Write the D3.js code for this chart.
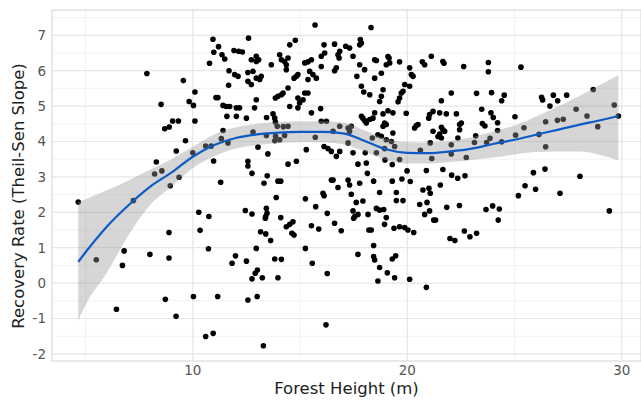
<!DOCTYPE html>
<html>
<head>
<meta charset="utf-8">
<script src="https://cdn.jsdelivr.net/npm/d3@7"></script>
<style>
  body { margin: 0; background: #fff; }
  svg { display: block; font-family: "DejaVu Sans", sans-serif; }
</style>
</head>
<body>
<div id="chart"></div>
<script>
// [forest height (m), recovery rate]
const observations = [
  [4.66,2.29],[5.5,0.66],[6.44,-0.74],[6.8,0.91],[6.72,0.5],[7.23,2.33],[7.86,5.92],[8.0,0.81],
  [8.22,3.08],[8.3,3.42],[8.52,5.05],[8.56,3.17],[8.69,4.36],[8.9,4.41],[8.72,-0.46],[8.89,1.43],
  [8.89,0.71],[8.95,2.75],[9.06,4.58],[9.33,4.58],[9.23,3.73],[9.22,-0.94],[9.36,2.99],[9.56,5.72],
  [9.66,4.02],[9.83,5.13],[10.0,3.68],[10.03,5.02],[10.1,5.4],[10.1,4.58],[10.03,-0.38],[10.28,2.0],
  [10.34,1.49],[10.6,3.87],[10.6,-1.51],[10.75,1.88],[10.73,0.97],[10.78,6.21],[10.86,3.87],[10.94,6.89],
  [10.98,6.52],[10.97,3.45],[10.95,-1.42],[11.08,5.24],[11.17,5.24],[11.2,6.68],[11.16,-0.38],[11.3,2.85],
  [11.36,6.45],[11.49,6.33],[11.92,6.57],[12.14,6.55],[12.31,6.53],[12.6,6.92],[11.69,6.0],[11.95,5.89],
  [12.11,5.84],[12.73,6.31],[12.96,6.41],[13.07,6.31],[12.96,6.26],[12.57,5.95],[12.81,5.98],[12.57,5.7],
  [12.73,5.61],[12.96,5.79],[13.12,5.75],[13.19,5.84],[11.67,5.59],[11.41,5.02],[11.56,4.99],[11.72,4.99],
  [12.03,4.95],[12.18,4.95],[11.59,4.71],[12.03,4.71],[12.5,4.66],[12.96,5.18],[12.88,4.95],[13.44,4.68],
  [13.66,6.17],[14.05,6.45],[14.13,6.31],[14.28,6.26],[14.36,6.17],[14.44,6.36],[14.36,6.03],[14.52,6.73],
  [14.78,6.86],[14.72,5.79],[14.83,5.84],[14.9,5.89],[14.44,5.51],[13.85,5.23],[13.97,5.28],[14.13,5.32],
  [14.21,5.37],[14.52,4.99],[14.9,4.95],[14.98,5.09],[14.9,5.23],[15.14,5.18],[15.22,5.37],[15.37,5.37],
  [15.22,6.22],[15.37,6.25],[15.53,6.31],[15.45,5.98],[15.6,5.89],[15.76,5.79],[15.37,5.75],[15.99,6.41],
  [16.15,6.5],[15.99,6.12],[16.12,6.73],[15.96,4.93],[15.53,4.81],[15.99,4.57],[16.23,4.57],[13.74,4.78],
  [13.82,4.66],[13.85,4.55],[13.94,4.43],[14.44,4.43],[13.86,4.15],[14.05,4.05],[14.28,4.17],[13.82,4.02],
  [13.43,4.17],[12.81,4.27],[11.41,4.31],[11.33,4.08],[11.64,3.96],[13.04,3.84],[13.5,3.65],[12.57,3.44],
  [14.44,3.36],[14.83,3.44],[15.29,3.77],[15.71,4.12],[16.12,3.86],[16.3,3.8],[16.46,3.72],[14.22,4.42],
  [15.7,7.29],[18.31,7.22],
  [16.61,6.75],[16.85,6.55],[16.77,6.45],[16.82,6.36],[17.13,6.69],[17.31,6.64],[17.81,6.88],[17.86,6.78],
  [17.78,6.73],[17.47,6.41],[16.69,6.08],[16.61,6.0],[17.78,6.17],[18.01,6.03],[17.65,5.84],[17.86,5.56],
  [17.97,5.4],[18.48,6.31],[18.56,6.29],[19.1,6.4],[19.15,6.36],[19.02,6.17],[19.18,6.22],[18.79,5.93],
  [18.48,5.79],[19.64,6.25],[20.11,6.08],[20.19,5.89],[20.27,5.84],[20.11,5.56],[19.88,5.61],[19.72,5.37],
  [19.8,5.42],[19.64,5.23],[19.57,5.12],[18.87,5.46],[18.79,5.28],[18.71,5.13],[18.25,5.32],[20.7,6.25],
  [20.81,6.17],[21.12,6.41],[21.66,6.26],[21.71,6.21],[22.63,6.12],[22.05,5.37],[21.59,5.15],[21.2,4.85],
  [21.04,4.76],[21.0,4.66],[21.51,4.81],[21.82,4.78],[22.29,4.78],[22.52,4.52],[22.44,4.48],[22.44,4.33],
  [22.36,4.1],[21.59,4.4],[21.66,4.33],[21.74,4.29],[21.51,4.21],[21.43,4.14],[21.59,4.1],[21.2,4.29],
  [21.07,3.96],[22.05,3.91],[22.05,3.65],[22.75,3.55],[20.61,3.75],[19.95,4.8],[20.5,4.48],[20.42,4.45],
  [20.34,4.38],[19.33,4.81],[19.1,4.87],[18.87,4.78],[18.94,4.52],[18.87,4.43],[19.02,4.48],[18.48,4.81],
  [18.4,4.66],[18.25,4.62],[17.86,4.71],[17.93,4.66],[18.01,4.59],[18.09,4.52],[18.63,4.19],[18.79,4.15],
  [18.37,4.1],[19.02,4.05],[19.26,4.0],[19.33,4.24],[19.41,3.86],[18.94,3.8],[19.64,3.49],[18.56,3.68],
  [17.39,4.43],[17.24,4.38],[17.31,4.29],[16.85,4.43],[16.54,4.29],[17.24,3.96],[16.85,3.72],[16.69,3.58],
  [17.47,3.68],[18.04,3.68],[17.7,3.36],[18.09,3.39],[18.96,3.48],[19.3,3.35],[21.14,3.52],
  [23.78,6.23],[23.78,5.97],[25.3,6.1],[23.23,5.36],[23.93,5.38],[24.52,5.31],[24.4,5.15],[23.47,4.91],
  [23.9,4.81],[24.01,4.68],[24.21,4.53],[23.5,4.51],[23.62,4.44],[24.21,4.31],[23.19,4.16],[23.13,3.97],
  [23.7,3.97],[23.86,4.09],[24.4,3.99],[25.02,4.7],[25.05,4.18],[25.44,4.39],[26.14,4.2],[26.45,3.85],
  [26.45,4.56],[26.26,5.25],[26.31,5.17],[26.65,5.0],[26.81,5.31],[27.01,5.15],[27.43,5.31],[27.0,4.6],
  [27.27,4.63],[27.87,4.91],[28.38,4.72],[28.88,4.42],[28.67,5.47],[29.65,5.03],[29.84,4.72],[25.88,3.12],
  [26.42,3.22],[28.05,3.02],[22.07,3.05],[22.35,2.96],[22.69,3.03],
  [25.18,2.47],[25.49,2.75],[25.98,2.65],[27.12,2.54],[21.84,2.14],[22.43,2.19],[23.67,2.08],[23.98,2.18],
  [24.29,2.09],[24.24,1.78],[22.66,1.47],[22.92,1.31],[23.23,1.41],[21.99,1.26],[22.22,1.2],[29.42,2.04],
  [18.14,3.1],[19.99,3.17],[20.89,3.18],[21.66,3.21],[16.54,2.91],[17.24,2.91],[17.31,2.77],[16.77,2.7],
  [17.78,2.82],[18.43,2.88],[19.3,2.88],[19.75,2.94],[20.14,2.87],[18.71,2.56],[19.49,2.56],[20.73,2.63],
  [21.01,2.68],[21.07,2.54],[21.54,2.77],[17.39,2.51],[17.62,2.28],[17.93,2.32],[19.49,2.33],[19.8,2.33],
  [20.58,2.22],[20.92,2.28],[18.56,2.11],[18.71,2.06],[18.9,2.08],[17.47,2.04],[17.7,1.94],[17.55,1.88],
  [17.5,1.83],[18.17,1.94],[19.02,1.85],[18.94,1.66],[16.61,1.69],[16.92,1.48],[18.21,1.5],[18.32,1.5],
  [19.38,1.55],[19.64,1.59],[19.88,1.57],[20.03,1.5],[20.3,1.43],[20.81,1.94],[21.04,2.04],[21.23,1.78],
  [21.32,1.78],[18.43,1.06],[17.7,0.81],[18.43,0.75],[18.48,0.65],[19.3,0.68],[19.46,0.77],[18.71,0.44],
  [19.07,0.29],[19.41,0.15],[18.63,0.06],[20.11,0.11],[20.89,-0.12],
  [12.57,3.31],[12.76,3.1],[13.47,3.03],[13.32,2.82],[13.97,2.88],[14.1,2.88],[13.89,2.42],[12.45,2.05],
  [12.76,1.95],[13.43,2.11],[13.46,1.97],[13.4,1.88],[13.38,1.83],[14.1,1.85],[14.36,1.59],[14.52,1.66],
  [14.67,1.73],[14.62,1.41],[14.72,1.36],[13.16,1.45],[13.4,1.39],[13.63,1.2],[12.96,0.98],[11.99,0.77],
  [11.83,0.56],[12.5,0.62],[13.82,0.68],[14.13,0.67],[13.01,0.37],[12.91,0.28],[12.76,0.12],[13.24,0.15],
  [13.97,0.15],[15.25,2.38],[15.73,2.16],[16.07,2.54],[16.12,2.47],[16.46,2.91],[16.27,1.97],[15.53,1.62],
  [15.87,1.53],[15.25,0.98],[15.57,0.56],[16.27,0.27],[12.57,-0.48],[13.0,-0.38],[16.21,-1.18],[13.29,-1.77]
];

// loess smooth and its confidence band
const smoothX     = [4.66, 5, 6, 7, 8, 9, 10, 11, 12, 13, 14, 15, 16, 17, 18, 19, 20, 21, 22, 23, 24, 25, 26, 27, 28, 29, 29.84];
const smoothFit   = [0.6, 0.87, 1.6, 2.2, 2.72, 3.12, 3.57, 3.9, 4.1, 4.2, 4.25, 4.27, 4.27, 4.23, 4.02, 3.78, 3.68, 3.67, 3.72, 3.8, 3.93, 4.05, 4.19, 4.33, 4.47, 4.6, 4.72];
const smoothLower = [-1.06, -0.62, 0.3, 1.35, 2.2, 2.72, 3.25, 3.58, 3.8, 3.9, 3.96, 3.98, 3.98, 3.92, 3.72, 3.48, 3.38, 3.38, 3.42, 3.48, 3.55, 3.63, 3.7, 3.72, 3.72, 3.62, 3.46];
const smoothUpper = [2.29, 2.37, 2.62, 2.9, 3.2, 3.5, 3.85, 4.2, 4.4, 4.5, 4.55, 4.57, 4.57, 4.54, 4.32, 4.08, 3.98, 3.97, 4.02, 4.12, 4.28, 4.45, 4.7, 4.98, 5.28, 5.6, 5.88];

const xTicks = [10, 20, 30];
const xMinor = [5, 15, 25];
const yTicks = [-2, -1, 0, 1, 2, 3, 4, 5, 6, 7];
const yMinor = [-1.5, -0.5, 0.5, 1.5, 2.5, 3.5, 4.5, 5.5, 6.5, 7.5];

const width = 641, height = 403;
const panel = { left: 52, right: 641, top: 10, bottom: 361 };

const svg = d3.select("#chart").append("svg")
  .attr("width", width)
  .attr("height", height);

const x = d3.scaleLinear().domain([3.436, 30.896]).range([panel.left, panel.right]);
const y = d3.scaleLinear().domain([-2.201, 7.715]).range([panel.bottom, panel.top]);

// grid
const grid = svg.append("g");
grid.selectAll(".ymin").data(yMinor).enter().append("line")
  .attr("x1", panel.left).attr("x2", panel.right)
  .attr("y1", d => y(d)).attr("y2", d => y(d))
  .attr("stroke", "#f2f2f2").attr("stroke-width", 1);
grid.selectAll(".xmin").data(xMinor).enter().append("line")
  .attr("y1", panel.top).attr("y2", panel.bottom)
  .attr("x1", d => x(d)).attr("x2", d => x(d))
  .attr("stroke", "#f2f2f2").attr("stroke-width", 1);
grid.selectAll(".ymaj").data(yTicks).enter().append("line")
  .attr("x1", panel.left).attr("x2", panel.right)
  .attr("y1", d => y(d)).attr("y2", d => y(d))
  .attr("stroke", "#e6e6e6").attr("stroke-width", 1.2);
grid.selectAll(".xmaj").data(xTicks).enter().append("line")
  .attr("y1", panel.top).attr("y2", panel.bottom)
  .attr("x1", d => x(d)).attr("x2", d => x(d))
  .attr("stroke", "#e6e6e6").attr("stroke-width", 1.2);

// points
svg.append("g").selectAll("circle")
  .data(observations)
  .enter().append("circle")
  .attr("cx", d => x(d[0]))
  .attr("cy", d => y(d[1]))
  .attr("r", 2.8)
  .attr("fill", "#000");

// smooth band + line
const smooth = smoothX.map((v, i) => ({ x: v, fit: smoothFit[i], lo: smoothLower[i], hi: smoothUpper[i] }));

svg.append("path")
  .datum(smooth)
  .attr("d", d3.area()
    .x(d => x(d.x))
    .y0(d => y(d.lo))
    .y1(d => y(d.hi))
    .curve(d3.curveMonotoneX))
  .attr("fill", "#999999")
  .attr("fill-opacity", 0.4);

svg.append("path")
  .datum(smooth)
  .attr("d", d3.line()
    .x(d => x(d.x))
    .y(d => y(d.fit))
    .curve(d3.curveMonotoneX))
  .attr("fill", "none")
  .attr("stroke", "#0f5bc4")
  .attr("stroke-width", 2.2);

// panel border
svg.append("rect")
  .attr("x", panel.left).attr("y", panel.top)
  .attr("width", panel.right - panel.left)
  .attr("height", panel.bottom - panel.top)
  .attr("fill", "none")
  .attr("stroke", "#d4d4d4")
  .attr("stroke-width", 1);

// axes labels
svg.append("g").selectAll("text")
  .data(xTicks).enter().append("text")
  .attr("x", d => x(d))
  .attr("y", 375)
  .attr("text-anchor", "middle")
  .attr("font-size", "13.5px")
  .attr("fill", "#555")
  .text(d => d);

svg.append("g").selectAll("text")
  .data(yTicks).enter().append("text")
  .attr("x", 46)
  .attr("y", d => y(d))
  .attr("dy", "0.36em")
  .attr("text-anchor", "end")
  .attr("font-size", "13.5px")
  .attr("fill", "#555")
  .text(d => d);

svg.append("text")
  .attr("x", (panel.left + panel.right) / 2)
  .attr("y", 394)
  .attr("text-anchor", "middle")
  .attr("font-size", "16.5px")
  .attr("fill", "#222")
  .text("Forest Height (m)");

svg.append("text")
  .attr("transform", "translate(24,196) rotate(-90)")
  .attr("text-anchor", "middle")
  .attr("font-size", "16.5px")
  .attr("fill", "#222")
  .text("Recovery Rate (Theil-Sen Slope)");
</script>
</body>
</html>
